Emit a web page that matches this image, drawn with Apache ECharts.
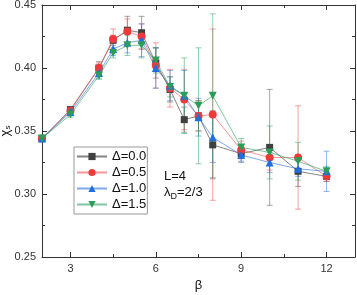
<!DOCTYPE html>
<html><head><meta charset="utf-8">
<script src="https://cdn.jsdelivr.net/npm/echarts@6/dist/echarts.min.js"></script>
<style>html,body{margin:0;padding:0;background:#fff}#c{width:357px;height:295px}</style>
</head><body><div id="c"></div>
<script>
const beta = [2,3,4,4.5,5,5.5,6,6.5,7,7.5,8,9,10,11,12];
const d00 = [0.344,0.367,0.400,0.422,0.430,0.428,0.404,0.383,0.359,0.362,0.339,0.332,0.337,0.318,0.314];
const d05 = [0.344,0.366,0.400,0.423,0.429,0.425,0.402,0.384,0.375,0.362,0.363,0.335,0.329,0.329,0.314];
const d10 = [0.344,0.365,0.396,0.415,0.420,0.422,0.400,0.386,0.378,0.361,0.345,0.331,0.325,0.320,0.318];
const d15 = [0.344,0.363,0.394,0.412,0.418,0.418,0.406,0.385,0.378,0.370,0.378,0.337,0.333,0.326,0.318];
const e00 = [0.002,0.002,0.005,0.004,0.011,0.013,0.012,0.010,0.010,0.012,0.027,0.006,0.046,0.012,0.004];
const e05 = [0.002,0.002,0.004,0.008,0.010,0.010,0.018,0.015,0.024,0.012,0.068,0.007,0.010,0.041,0.004];
const e10 = [0.002,0.002,0.004,0.005,0.008,0.013,0.016,0.012,0.020,0.015,0.020,0.006,0.008,0.006,0.016];
const e15 = [0.002,0.002,0.003,0.004,0.008,0.010,0.010,0.008,0.030,0.046,0.065,0.007,0.021,0.015,0.004];
const names = ['Δ=0.0','Δ=0.5','Δ=1.0','Δ=1.5'];
const xMajor = [3,6,9,12];
const xMinor = [4.5,7.5,10.5];

const colors = ['#404040','#f03a3a','#1f6fe0','#2a9e58'];
const lineColors = ['rgba(80,80,80,0.7)','rgba(240,80,80,0.6)','rgba(40,110,225,0.6)','rgba(40,160,90,0.6)'];
const barColors = ['rgba(80,80,80,0.5)','rgba(240,70,70,0.5)','rgba(40,110,225,0.5)','rgba(40,160,90,0.5)'];
const symbols = ['rect','circle','triangle','path://M0,0 L10,0 L5,9 Z'];
const sizes = [7,8,8,8];
const vals = [d00,d05,d10,d15];
const errs = [e00,e05,e10,e15];

const chart = echarts.init(document.getElementById('c'));
const font = 'Liberation Sans, Arial, sans-serif';
const series = [];
for (let k = 0; k < 4; k++) {
  series.push({
    type: 'custom', name: names[k] + 'err', silent: true, z: 1,
    data: beta.map((b, i) => [b, vals[k][i], errs[k][i]]),
    renderItem: function (params, api) {
      const x = api.value(0), y = api.value(1), e = api.value(2);
      const p1 = api.coord([x, y + e]);
      const p2 = api.coord([x, y - e]);
      const st = { stroke: barColors[k], lineWidth: 1 };
      return { type: 'group', children: [
        { type: 'line', shape: { x1: p1[0], y1: p1[1], x2: p2[0], y2: p2[1] }, style: st },
        { type: 'line', shape: { x1: p1[0]-3, y1: p1[1], x2: p1[0]+3, y2: p1[1] }, style: st },
        { type: 'line', shape: { x1: p2[0]-3, y1: p2[1], x2: p2[0]+3, y2: p2[1] }, style: st }
      ]};
    }
  });
}
for (let k = 0; k < 4; k++) {
  series.push({
    type: 'line', name: names[k], z: 2 + k,
    data: beta.map((b, i) => [b, vals[k][i]]),
    symbol: symbols[k], symbolSize: sizes[k], showAllSymbol: true,
    itemStyle: { color: colors[k] },
    lineStyle: { color: lineColors[k], width: 1 },
    emphasis: { disabled: true }
  });
}

const axLine = { show: true, lineStyle: { color: '#333', width: 1 } };
chart.setOption({
  animation: false,
  grid: { left: 42, right: 2, top: 5, bottom: 38, containLabel: false, outerBoundsMode: 'none' },
  legend: {
    left: 74, top: 147, orient: 'vertical',
    data: names, itemWidth: 30, itemHeight: 9, itemGap: 3,
    padding: [3, 1, 3, 2],
    borderColor: '#999', borderWidth: 1,
    textStyle: { fontSize: 13, color: '#111', fontFamily: font }
  },
  xAxis: [
    { type: 'value', min: 2, max: 13, position: 'bottom',
      name: 'β', nameLocation: 'middle', nameGap: 22, nameMoveOverlap: false,
      nameTextStyle: { fontSize: 13, color: '#111', fontFamily: font },
      axisLine: axLine, splitLine: { show: false },
      axisTick: { inside: true, length: 5, customValues: xMajor, lineStyle: { color: '#333' } },
      axisLabel: { customValues: xMajor, fontSize: 11, color: '#333', margin: 6, fontFamily: font } },
    { type: 'value', min: 2, max: 13, position: 'bottom',
      axisLine: { show: false }, splitLine: { show: false }, axisLabel: { show: false },
      axisTick: { inside: true, length: 3, customValues: xMinor, lineStyle: { color: '#333' } } },
    { type: 'value', min: 2, max: 13, position: 'top',
      axisLine: axLine, splitLine: { show: false }, axisLabel: { show: false },
      axisTick: { inside: true, length: 5, customValues: xMajor, lineStyle: { color: '#333' } } },
    { type: 'value', min: 2, max: 13, position: 'top',
      axisLine: { show: false }, splitLine: { show: false }, axisLabel: { show: false },
      axisTick: { inside: true, length: 3, customValues: xMinor, lineStyle: { color: '#333' } } }
  ],
  yAxis: [
    { type: 'value', min: 0.25, max: 0.45, interval: 0.05, position: 'left',
      name: 'χ{s|s}', nameLocation: 'middle', nameGap: 30, nameRotate: 90, nameMoveOverlap: false,
      nameTextStyle: { fontSize: 13, color: '#111', fontFamily: font, rich: { s: { fontSize: 8, verticalAlign: 'bottom', padding: [6,0,0,0] } } },
      axisLine: axLine, splitLine: { show: false },
      axisTick: { inside: true, length: 5, lineStyle: { color: '#333' } },
      minorTick: { show: true, splitNumber: 2, length: 3, lineStyle: { color: '#333' } },
      axisLabel: { fontSize: 11, color: '#333', margin: 6, fontFamily: font, formatter: v => v.toFixed(2) } },
    { type: 'value', min: 0.25, max: 0.45, interval: 0.05, position: 'right',
      axisLine: axLine, splitLine: { show: false }, axisLabel: { show: false },
      axisTick: { inside: true, length: 5, lineStyle: { color: '#333' } },
      minorTick: { show: true, splitNumber: 2, length: 3, lineStyle: { color: '#333' } } }
  ],
  graphic: [
    { type: 'text', left: 164, top: 170, style: { text: 'L=4', fontSize: 13, fill: '#111', fontFamily: font } },
    { type: 'text', left: 164, top: 186, style: { text: 'λ{s|D}=2/3', fontSize: 13, fill: '#111', fontFamily: font,
      rich: { s: { fontSize: 9, padding: [8,0,0,0] } } } }
  ],
  series: series
});
</script></body></html>
